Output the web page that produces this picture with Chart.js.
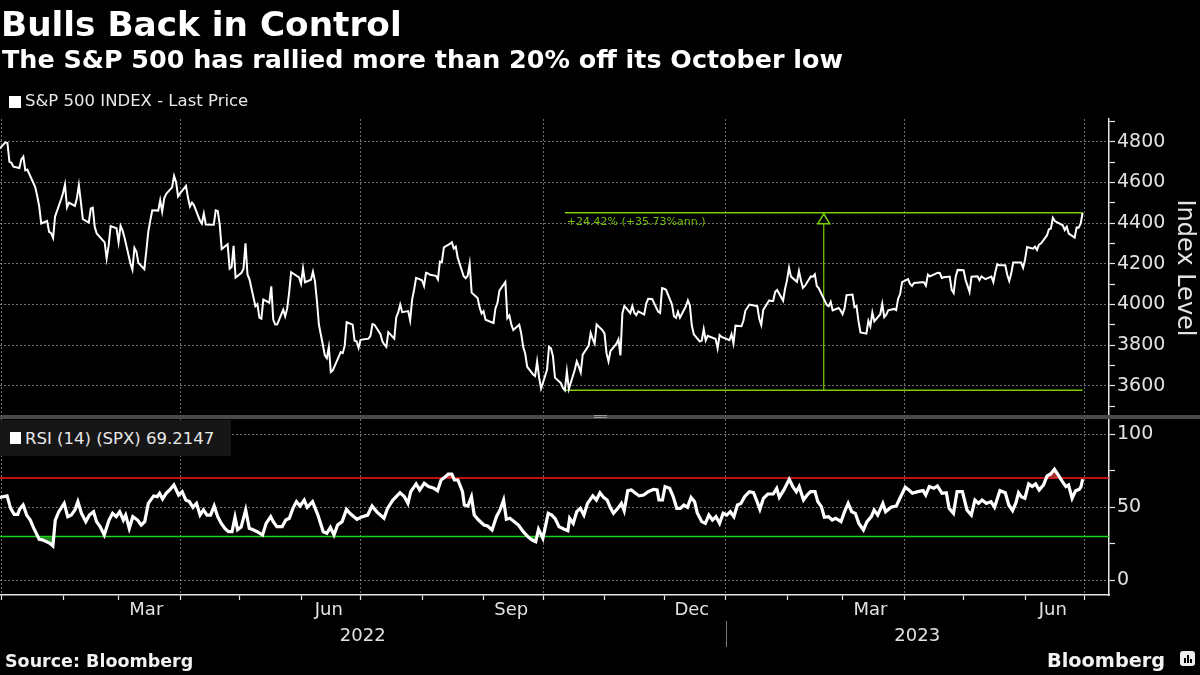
<!DOCTYPE html>
<html>
<head>
<meta charset="utf-8">
<title>Bulls Back in Control</title>
<script src="https://cdn.jsdelivr.net/npm/chart.js@4.4.0/dist/chart.umd.min.js"></script>
<style>
  html, body { margin: 0; padding: 0; background: #000; }
  #wrap { position: relative; width: 1200px; height: 675px; overflow: hidden; background: #000;
          font-family: "DejaVu Sans", sans-serif; color: #fff; }
  #wrap canvas { position: absolute; left: 0; top: 0; }
  .txt { position: absolute; white-space: nowrap; line-height: 1; }
  .sq { position: absolute; background: #fff; }
  #title { left: 1px; top: 7px; font-size: 34.3px; font-weight: bold; }
  #subtitle { left: 2px; top: 47px; font-size: 25.4px; font-weight: bold; }
  #legend { left: 25px; top: 93px; font-size: 16.5px; color: #e8e8e8; }
  #rsiBox { position: absolute; left: 0; top: 420px; width: 231px; height: 36px; background: #161616; }
  #rsiLegend { left: 25px; top: 431px; font-size: 16.5px; color: #e8e8e8; }
  #source { left: 5px; top: 653px; font-size: 17.5px; font-weight: bold; color: #f2f2f2; }
  #brand { left: 1047px; top: 651px; font-size: 19.3px; font-weight: bold; color: #f2f2f2; }
  #brandIcon { position: absolute; left: 1180px; top: 651px; width: 15px; height: 15px; border-radius: 3px; background: #eee; }
  #brandIcon i { position: absolute; bottom: 3px; width: 2px; background: #000; }
</style>
</head>
<body>
<div id="wrap">
  <canvas id="chart" width="1200" height="675"></canvas>
  <div id="title" class="txt">Bulls Back in Control</div>
  <div id="subtitle" class="txt">The S&amp;P 500 has rallied more than 20% off its October low</div>
  <div class="sq" style="left:9px;top:96px;width:12px;height:12px"></div>
  <div id="legend" class="txt">S&amp;P 500 INDEX - Last Price</div>
  <div id="rsiBox"></div>
  <div class="sq" style="left:10px;top:432px;width:11px;height:12px"></div>
  <div id="rsiLegend" class="txt">RSI (14) (SPX) 69.2147</div>
  <div id="source" class="txt">Source: Bloomberg</div>
  <div id="brand" class="txt">Bloomberg</div>
  <div id="brandIcon"><i style="left:4px;height:5px"></i><i style="left:7px;height:8px"></i><i style="left:10px;height:4px"></i></div>
</div>
<script>
// ---- data ----
const spxDates = [
  "2021-12-31",
  "2022-01-03","2022-01-04","2022-01-05","2022-01-06","2022-01-07","2022-01-10","2022-01-11","2022-01-12","2022-01-13","2022-01-14",
  "2022-01-18","2022-01-19","2022-01-20","2022-01-21","2022-01-24","2022-01-25","2022-01-26","2022-01-27","2022-01-28","2022-01-31",
  "2022-02-01","2022-02-02","2022-02-03","2022-02-04","2022-02-07","2022-02-08","2022-02-09","2022-02-10","2022-02-11","2022-02-14",
  "2022-02-15","2022-02-16","2022-02-17","2022-02-18","2022-02-22","2022-02-23","2022-02-24","2022-02-25","2022-02-28",
  "2022-03-01","2022-03-02","2022-03-03","2022-03-04","2022-03-07","2022-03-08","2022-03-09","2022-03-10","2022-03-11","2022-03-14",
  "2022-03-15","2022-03-16","2022-03-17","2022-03-18","2022-03-21","2022-03-22","2022-03-23","2022-03-24","2022-03-25","2022-03-28",
  "2022-03-29","2022-03-30","2022-03-31",
  "2022-04-01","2022-04-04","2022-04-05","2022-04-06","2022-04-07","2022-04-08","2022-04-11","2022-04-12","2022-04-13","2022-04-14",
  "2022-04-18","2022-04-19","2022-04-20","2022-04-21","2022-04-22","2022-04-25","2022-04-26","2022-04-27","2022-04-28","2022-04-29",
  "2022-05-02","2022-05-03","2022-05-04","2022-05-05","2022-05-06","2022-05-09","2022-05-10","2022-05-11","2022-05-12","2022-05-13",
  "2022-05-16","2022-05-17","2022-05-18","2022-05-19","2022-05-20","2022-05-23","2022-05-24","2022-05-25","2022-05-26","2022-05-27",
  "2022-05-31",
  "2022-06-01","2022-06-02","2022-06-03","2022-06-06","2022-06-07","2022-06-08","2022-06-09","2022-06-10","2022-06-13","2022-06-14",
  "2022-06-15","2022-06-16","2022-06-17","2022-06-21","2022-06-22","2022-06-23","2022-06-24","2022-06-27","2022-06-28","2022-06-29",
  "2022-06-30",
  "2022-07-01","2022-07-05","2022-07-06","2022-07-07","2022-07-08","2022-07-11","2022-07-12","2022-07-13","2022-07-14","2022-07-15",
  "2022-07-18","2022-07-19","2022-07-20","2022-07-21","2022-07-22","2022-07-25","2022-07-26","2022-07-27","2022-07-28","2022-07-29",
  "2022-08-01","2022-08-02","2022-08-03","2022-08-04","2022-08-05","2022-08-08","2022-08-09","2022-08-10","2022-08-11","2022-08-12",
  "2022-08-15","2022-08-16","2022-08-17","2022-08-18","2022-08-19","2022-08-22","2022-08-23","2022-08-24","2022-08-25","2022-08-26",
  "2022-08-29","2022-08-30","2022-08-31",
  "2022-09-01","2022-09-02","2022-09-06","2022-09-07","2022-09-08","2022-09-09","2022-09-12","2022-09-13","2022-09-14","2022-09-15",
  "2022-09-16","2022-09-19","2022-09-20","2022-09-21","2022-09-22","2022-09-23","2022-09-26","2022-09-27","2022-09-28","2022-09-29",
  "2022-09-30",
  "2022-10-03","2022-10-04","2022-10-05","2022-10-06","2022-10-07","2022-10-10","2022-10-11","2022-10-12","2022-10-13","2022-10-14",
  "2022-10-17","2022-10-18","2022-10-19","2022-10-20","2022-10-21","2022-10-24","2022-10-25","2022-10-26","2022-10-27","2022-10-28",
  "2022-10-31",
  "2022-11-01","2022-11-02","2022-11-03","2022-11-04","2022-11-07","2022-11-08","2022-11-09","2022-11-10","2022-11-11","2022-11-14",
  "2022-11-15","2022-11-16","2022-11-17","2022-11-18","2022-11-21","2022-11-22","2022-11-23","2022-11-25","2022-11-28","2022-11-29",
  "2022-11-30",
  "2022-12-01","2022-12-02","2022-12-05","2022-12-06","2022-12-07","2022-12-08","2022-12-09","2022-12-12","2022-12-13","2022-12-14",
  "2022-12-15","2022-12-16","2022-12-19","2022-12-20","2022-12-21","2022-12-22","2022-12-23","2022-12-27","2022-12-28","2022-12-29",
  "2022-12-30",
  "2023-01-03","2023-01-04","2023-01-05","2023-01-06","2023-01-09","2023-01-10","2023-01-11","2023-01-12","2023-01-13","2023-01-17",
  "2023-01-18","2023-01-19","2023-01-20","2023-01-23","2023-01-24","2023-01-25","2023-01-26","2023-01-27","2023-01-30","2023-01-31",
  "2023-02-01","2023-02-02","2023-02-03","2023-02-06","2023-02-07","2023-02-08","2023-02-09","2023-02-10","2023-02-13","2023-02-14",
  "2023-02-15","2023-02-16","2023-02-17","2023-02-21","2023-02-22","2023-02-23","2023-02-24","2023-02-27","2023-02-28",
  "2023-03-01","2023-03-02","2023-03-03","2023-03-06","2023-03-07","2023-03-08","2023-03-09","2023-03-10","2023-03-13","2023-03-14",
  "2023-03-15","2023-03-16","2023-03-17","2023-03-20","2023-03-21","2023-03-22","2023-03-23","2023-03-24","2023-03-27","2023-03-28",
  "2023-03-29","2023-03-30","2023-03-31",
  "2023-04-03","2023-04-04","2023-04-05","2023-04-06","2023-04-10","2023-04-11","2023-04-12","2023-04-13","2023-04-14","2023-04-17",
  "2023-04-18","2023-04-19","2023-04-20","2023-04-21","2023-04-24","2023-04-25","2023-04-26","2023-04-27","2023-04-28",
  "2023-05-01","2023-05-02","2023-05-03","2023-05-04","2023-05-05","2023-05-08","2023-05-09","2023-05-10","2023-05-11","2023-05-12",
  "2023-05-15","2023-05-16","2023-05-17","2023-05-18","2023-05-19","2023-05-22","2023-05-23","2023-05-24","2023-05-25","2023-05-26",
  "2023-05-30","2023-05-31",
  "2023-06-01","2023-06-02","2023-06-05","2023-06-06","2023-06-07","2023-06-08","2023-06-09","2023-06-12","2023-06-13","2023-06-14",
  "2023-06-15","2023-06-16","2023-06-20","2023-06-21","2023-06-22","2023-06-23","2023-06-26","2023-06-27","2023-06-28","2023-06-29",
  "2023-06-30"
];
const spxClose = [
  4766.18,
  4796.56,4793.54,4700.58,4696.05,4677.03,4670.29,4713.07,4726.35,4659.03,4662.85,
  4577.11,4532.76,4482.73,4397.94,4410.13,4356.45,4349.93,4326.51,4431.85,4515.55,
  4546.54,4589.38,4477.44,4500.53,4483.87,4521.54,4587.18,4504.08,4418.64,4401.67,
  4471.07,4475.01,4380.26,4348.87,4304.76,4225.50,4288.70,4384.65,4373.94,
  4306.26,4386.54,4363.49,4328.87,4201.09,4170.70,4277.88,4259.52,4204.31,4173.11,
  4262.45,4357.86,4411.67,4463.12,4461.18,4511.61,4456.24,4520.16,4543.06,4575.52,
  4631.60,4602.45,4530.41,
  4545.86,4582.64,4525.12,4481.15,4500.21,4488.28,4412.53,4397.45,4446.59,4392.59,
  4391.69,4462.21,4459.45,4393.66,4271.78,4296.12,4175.20,4183.96,4287.50,4131.93,
  4155.38,4175.48,4300.17,4146.87,4123.34,3991.24,4001.05,3935.18,3930.08,4023.89,
  4008.01,4088.85,3923.68,3900.79,3901.36,3973.75,3941.48,3978.73,4057.84,4158.24,
  4132.15,
  4101.23,4176.82,4108.54,4121.43,4160.68,4115.77,4017.82,3900.86,3749.63,3735.48,
  3789.99,3666.77,3674.84,3764.79,3759.89,3795.73,3911.74,3900.11,3821.55,3818.83,
  3785.38,
  3825.33,3831.39,3845.08,3902.62,3899.38,3854.43,3818.80,3801.78,3790.38,3863.16,
  3830.85,3936.69,3959.90,3998.95,3961.63,3966.84,3921.05,4023.61,4072.43,4130.29,
  4118.63,4091.19,4155.17,4151.94,4145.19,4140.06,4122.47,4210.24,4207.27,4280.15,
  4297.14,4305.20,4274.04,4283.74,4228.48,4137.99,4128.73,4140.77,4199.12,4057.66,
  4030.61,3986.16,3955.00,
  3966.85,3924.26,3908.19,3979.87,4006.18,4067.36,4110.41,3932.69,3946.01,3901.35,
  3873.33,3899.89,3855.93,3789.93,3757.99,3693.23,3655.04,3647.29,3719.04,3640.47,
  3585.62,
  3678.43,3790.93,3783.28,3744.52,3639.66,3612.39,3588.84,3577.03,3669.91,3583.07,
  3677.95,3719.98,3695.16,3665.78,3752.75,3797.34,3859.11,3830.60,3807.30,3901.06,
  3871.98,
  3856.10,3759.69,3719.89,3770.55,3806.80,3828.11,3748.57,3956.37,3992.93,3957.25,
  3991.73,3958.79,3946.56,3965.34,3949.94,4003.58,4027.26,4026.12,3963.94,3957.63,
  4080.11,
  4076.57,4071.70,3998.84,3941.26,3933.92,3963.51,3934.38,3990.56,4019.65,3995.32,
  3895.75,3852.36,3817.66,3821.62,3878.44,3822.39,3844.82,3829.25,3783.22,3849.28,
  3839.50,
  3824.14,3852.97,3808.10,3895.08,3892.09,3919.25,3969.61,3983.17,3999.09,3990.97,
  3928.86,3898.85,3972.61,4019.81,4016.95,4016.22,4060.43,4070.56,4017.77,4076.60,
  4119.21,4179.76,4136.48,4111.08,4164.00,4117.86,4081.50,4090.46,4137.29,4136.13,
  4147.60,4090.41,4079.09,3997.34,3991.05,4012.32,3970.04,3982.24,3970.15,
  3951.39,3981.35,4045.64,4048.42,3986.37,3992.01,3918.32,3861.59,3855.76,3919.29,
  3891.93,3960.28,3916.64,3951.57,4002.87,3936.97,3948.72,3970.99,3977.53,3971.27,
  4027.81,4050.83,4109.31,
  4124.51,4100.60,4090.38,4105.02,4109.11,4108.94,4091.95,4146.22,4137.64,4151.32,
  4154.87,4154.52,4129.79,4133.52,4137.04,4071.63,4055.99,4135.35,4169.48,
  4167.87,4119.58,4090.75,4061.22,4136.25,4138.12,4119.17,4137.64,4130.62,4124.08,
  4136.28,4109.90,4158.77,4198.05,4191.98,4192.63,4145.58,4115.24,4151.28,4205.45,
  4205.52,4179.83,
  4221.02,4282.37,4273.79,4283.85,4267.52,4293.93,4298.86,4338.93,4369.01,4372.59,
  4425.84,4409.59,4388.71,4365.69,4381.89,4348.33,4328.82,4378.41,4376.86,4396.44,
  4450.38
];

// RSI (14) readings, x in days since 2022-01-01
const rsiDay = [
  -0.8, 2.8, 4.6, 6.4, 8.2, 9.1, 10.9, 12.7, 14.5, 16.3,
  19, 20.8, 22.6, 24.4, 25.9, 27.1, 28.9, 31.6, 33.4, 35.2,
  37, 38.5, 40.3, 42.5, 44.3, 46.4, 47.9, 49.7, 51.8, 54.2,
  56, 57.8, 59.6, 61.4, 62.6, 64.4, 66.2, 68.6, 70.4, 72.2,
  74, 76.7, 78.5, 79.7, 81.2, 83, 84.8, 86.9, 89.3, 91.1,
  92.9, 94.7, 96.5, 98.3, 100.1, 101.8, 103.6, 105.4, 107.2, 109,
  110.8, 112.6, 114.4, 116.2, 117.7, 119, 120.8, 123.1, 124.9, 127.1,
  128.9, 131.6, 133.4, 135.7, 137, 138.8, 141.5, 143.3, 145.1, 146.9,
  148.7, 150.5, 152.6, 154.1, 156.8, 159.5, 162.2, 164, 165.8, 167.6,
  169.4, 171.7, 173.9, 175.6, 179.2, 181.9, 184.6, 186.8, 189.2, 192.8,
  194.6, 197.3, 200.9, 203.1, 204.9, 206.3, 209, 210.8, 213.1, 215.3,
  218, 219.8, 221.6, 223.4, 225.2, 227, 228.3, 230.1, 232.4, 233.3,
  235.1, 236.9, 238.3, 240.5, 243.2, 245, 247.3, 249.5, 251.3, 253.1,
  254.5, 256.3, 258.5, 260.6, 263, 265.7, 267.5, 269.3, 270.7, 272.9,
  275.6, 277.4, 279.2, 281, 283.7, 285.5, 286.4, 288.2, 290, 291.8,
  293.6, 295.4, 298.1, 299.9, 301.7, 303.5, 305.3, 307.1, 308.5, 310.7,
  312.5, 313.9, 315.7, 317.5, 319.3, 321.5, 323.7, 326, 328.7, 330.5,
  331.4, 333.2, 334.5, 336.8, 338.6, 340.4, 342.2, 344, 345.8, 347.6,
  349.4, 350.7, 353, 354.8, 356.6, 358.4, 360.2, 362, 363.8, 365.6,
  367.4, 369.2, 371, 372.8, 374.6, 377, 379.1, 380.9, 382.3, 384.1,
  386.3, 389, 390.8, 392.1, 394.4, 397.1, 398.9, 400.7, 402.1, 404.3,
  406.1, 407.9, 410.1, 411.5, 413.3, 414.8, 416.9, 418.7, 420.5, 423.2,
  425, 426.8, 428.6, 430.4, 432.2, 434.5, 436.3, 438.5, 439.9, 441.7,
  444.3, 445.7, 448.4, 451.1, 452.9, 455.6, 457.4, 459.2, 461.9, 464.6,
  465.9, 467.7, 470, 471.8, 474.1, 476.3, 477.7, 479.9, 481.7, 484.4,
  486.7, 488.9, 490.7, 492.5, 494.3, 496.5, 498.8, 500.6, 503.3, 506,
  507.8, 509.7, 511.4, 512.7, 514.1, 515.9, 517.8, 519.6, 521.3, 523.1,
  525.3, 527.1, 528.9, 530.8, 533, 534.8, 536.6, 537.9, 539.7, 541.5,
  543.3, 544.2, 545
];
const rsiValue = [
  56.8, 57.8, 49.3, 45.2, 45.2, 48.6, 51.6, 44.7, 41.3, 35.6,
  28.1, 27.6, 26.5, 25.3, 23.5, 41.3, 47, 52.7, 43.6, 44.7,
  48.2, 53.9, 45.9, 40.2, 44.7, 47, 40.2, 36.8, 31, 41.3,
  45.9, 43.6, 47, 41.3, 44.7, 35.6, 43.6, 41.3, 37.9, 40.2,
  52.7, 57.8, 57.3, 59.6, 55.7, 59.6, 61.9, 65.3, 58.4, 60.7,
  55, 53.9, 50, 52.7, 44.7, 48.2, 44.7, 44.7, 50.9, 43.6,
  39, 35.6, 33.3, 33.3, 43.2, 34.7, 36.5, 48.2, 35.6, 34.5,
  33.3, 31, 39, 43.6, 40.2, 36.8, 36.8, 41.3, 42.5, 49.3,
  53.9, 50.9, 55, 50, 53.9, 44.7, 33.3, 32.2, 36.3, 31,
  37.9, 40.2, 48.6, 45.9, 41.8, 43.6, 44.7, 50.9, 46.9, 42.5,
  49.3, 55, 60, 57.3, 52.7, 60.7, 66, 61.9, 66.4, 64.2,
  63, 61.4, 68.7, 70.5, 72.8, 72.8, 68.7, 68.7, 60.7, 51.6,
  50.9, 57.3, 44.7, 41.3, 37.9, 37.2, 34.5, 43.6, 48.2, 55,
  41.8, 42.5, 40.2, 37.9, 33.3, 29.5, 27.6, 26.5, 34.9, 28.8,
  45.9, 44.7, 42, 36.8, 35, 34, 42.5, 39, 47, 49.3,
  44.7, 52.7, 57.8, 55, 60, 56.8, 55, 49.3, 45.9, 49.3,
  52.7, 47.7, 61.4, 61.9, 60, 57.8, 58.4, 60.7, 62.3, 61.9,
  55, 55, 64.2, 63, 57.3, 49.3, 49.3, 51.6, 50, 56.8,
  53.9, 46.3, 40.2, 39, 44.7, 41.3, 43.6, 39, 45.9, 44.7,
  47, 43.6, 51.6, 52.7, 57.3, 60.7, 60, 53.9, 48.6, 56.2,
  59.1, 59.1, 63, 56.8, 61.9, 69.2, 64.2, 60.7, 64.2, 55,
  58.4, 60.7, 60.7, 53.9, 50.5, 43.2, 43.6, 41.3, 42.5, 40.2,
  47, 52.7, 47, 45.9, 39, 34.5, 40.2, 43.6, 48.2, 44.7,
  52.7, 47, 50, 50.9, 56.2, 63.7, 61.9, 59.6, 60.7, 61.4,
  58.4, 64.2, 63, 64.6, 59.6, 60, 49.3, 45.9, 60.7, 60.7,
  48.2, 44.7, 55, 52.7, 55, 52.7, 53.9, 50, 61.4, 60,
  51.6, 47.7, 53.2, 60, 57.3, 56.2, 66, 64.2, 66, 61.9,
  65.3, 71.5, 72.8, 76, 71.5, 67.6, 64.2, 65.3, 56.2, 61.4,
  62.3, 64.2, 69.21
];

const rsiBands = [70, 30];
const priceTickValues = [3500, 3600, 3700, 3800, 3900, 4000, 4100, 4200, 4300, 4400, 4500, 4600, 4700, 4800, 4900];
const rsiTickValues = [0, 25, 50, 75, 100];
const monthStarts = [
  "2022-01-01","2022-02-01","2022-03-01","2022-04-01","2022-05-01","2022-06-01","2022-07-01","2022-08-01","2022-09-01","2022-10-01",
  "2022-11-01","2022-12-01","2023-01-01","2023-02-01","2023-03-01","2023-04-01","2023-05-01","2023-06-01","2023-07-01"
];
const gridDates = ["2022-01-01","2022-04-01","2022-07-01","2022-10-01","2023-01-01","2023-04-01","2023-07-01"];
const monthLabels = ["Mar", "Jun", "Sep", "Dec", "Mar", "Jun"];
const monthLabelDates = ["2022-03-15","2022-06-15","2022-09-15","2022-12-15","2023-03-15","2023-06-15"];
const yearLabels = ["2022", "2023"];
const yearSplit = "2023-01-01";

// gain measurement drawn on the price panel
const gainFrom = "2022-10-12", gainLow = 3577.03;
const gainTo = "2023-06-30", gainHigh = 4450.38;
const gainText = "+24.42% (+35.73%ann.)";

// ---- chart ----
const X_MIN = -0.76, X_MAX = 558.3;
const GRID = "rgba(140,140,140,0.8)";
const NONE = "rgba(0,0,0,0)";
const AXIS = "#e6e6e6";
const LABEL = "#e2e2e2";
const LIME = "#7ccc0a";

const dayOf = s => (Date.parse(s + "T00:00:00Z") - Date.parse("2022-01-01T00:00:00Z")) / 864e5;

const spxPoints = spxDates.map((d, i) => ({ x: dayOf(d), y: spxClose[i] }));
const rsiPoints = rsiDay.map((d, i) => ({ x: d, y: rsiValue[i] }));
const lowX = dayOf(gainFrom), highX = dayOf(gainTo), midX = (lowX + highX) / 2;
const splitX = dayOf(yearSplit);
const yearCenters = [(X_MIN + splitX) / 2, (splitX + X_MAX) / 2];

const monthSet = new Set(monthStarts.map(dayOf));
const gridSet = new Set(gridDates.map(dayOf));
const xLabelMap = new Map(monthLabelDates.map((d, i) => [dayOf(d), monthLabels[i]]));
const xTickVals = monthStarts.map(dayOf).concat(monthLabelDates.map(dayOf)).sort((a, b) => a - b);

Chart.defaults.font.family = '"DejaVu Sans", sans-serif';
Chart.defaults.color = LABEL;

const overlay = {
    id: "overlay",
    afterDatasetsDraw(chart) {
        const { ctx, scales: { x, y } } = chart;
        const xm = x.getPixelForValue(midX);
        const yt = y.getPixelForValue(gainHigh);
        ctx.save();
        // hollow arrow head on the measuring line
        ctx.strokeStyle = LIME;
        ctx.lineWidth = 1.5;
        ctx.fillStyle = "#000";
        ctx.beginPath();
        ctx.moveTo(xm, yt + 1);
        ctx.lineTo(xm - 6, yt + 11);
        ctx.lineTo(xm + 6, yt + 11);
        ctx.closePath();
        ctx.fill();
        ctx.stroke();
        ctx.fillStyle = "#74bf06";
        ctx.font = '11px "DejaVu Sans"';
        ctx.textBaseline = "top";
        ctx.fillText(gainText, x.getPixelForValue(lowX) + 2, yt + 4);
        ctx.restore();
    },
    afterDraw(chart) {
        const { ctx, scales: { x, y } } = chart;
        const yb = y.bottom;
        ctx.save();
        // panel divider
        ctx.fillStyle = "#4a4a4a";
        ctx.fillRect(0, yb - 2, chart.width, 4);
        ctx.strokeStyle = "#9a9a9a";
        ctx.lineWidth = 1;
        ctx.beginPath();
        ctx.moveTo(594, yb - 1.5); ctx.lineTo(607, yb - 1.5);
        ctx.moveTo(594, yb + 0.5); ctx.lineTo(607, yb + 0.5);
        ctx.stroke();
        // year divider under the month labels
        const xs = Math.round(x.getPixelForValue(splitX)) + 0.5;
        ctx.strokeStyle = "#7a7a7a";
        ctx.beginPath();
        ctx.moveTo(xs, 621); ctx.lineTo(xs, 647);
        ctx.stroke();
        ctx.restore();
    }
};

new Chart(document.getElementById("chart"), {
    type: "line",
    data: {
        datasets: [
            { data: rsiPoints, yAxisID: "rsi", borderColor: "#ffffff", borderWidth: 3.2, order: 0,
              fill: { target: { value: rsiBands[0] }, above: "rgba(200,60,60,0.8)", below: NONE } },
            { data: spxPoints, yAxisID: "y", borderColor: "#ffffff", borderWidth: 2, order: 1 },
            { data: [{ x: lowX, y: gainLow }, { x: highX, y: gainLow }], yAxisID: "y", borderColor: LIME, borderWidth: 1.5, order: 2 },
            { data: [{ x: lowX, y: gainHigh }, { x: highX, y: gainHigh }], yAxisID: "y", borderColor: LIME, borderWidth: 1.5, order: 2 },
            { data: [{ x: midX, y: gainLow }, { x: midX, y: gainHigh }], yAxisID: "y", borderColor: LIME, borderWidth: 1.2, order: 2 },
            { data: [{ x: X_MIN, y: rsiBands[0] }, { x: X_MAX, y: rsiBands[0] }], yAxisID: "rsi", borderColor: "#ff1a1a", borderWidth: 1.5, order: 3 },
            { data: [{ x: X_MIN, y: rsiBands[1] }, { x: X_MAX, y: rsiBands[1] }], yAxisID: "rsi", borderColor: "#19d219", borderWidth: 1.5, order: 3 },
            { data: rsiPoints, yAxisID: "rsi", borderColor: NONE, borderWidth: 0, order: 4,
              fill: { target: { value: rsiBands[1] }, above: NONE, below: "rgba(40,150,40,0.85)" } }
        ]
    },
    options: {
        responsive: false,
        animation: false,
        events: [],
        layout: { padding: { top: 119, bottom: 26, left: 0, right: 0 } },
        elements: { point: { radius: 0 }, line: { tension: 0 } },
        plugins: { legend: { display: false }, tooltip: { enabled: false } },
        scales: {
            x: {
                type: "linear", min: X_MIN, max: X_MAX,
                afterBuildTicks: s => { s.ticks = xTickVals.map(v => ({ value: v })); },
                afterFit: s => { s.height = 28; },
                grid: {
                    color: c => (c.tick && gridSet.has(c.tick.value)) ? GRID : NONE,
                    tickColor: c => (c.tick && monthSet.has(c.tick.value)) ? AXIS : NONE,
                    tickLength: 5, tickWidth: 1.2
                },
                border: { display: true, color: AXIS, width: 1.5, dash: [2, 2] },
                ticks: { autoSkip: false, maxRotation: 0, padding: 0, color: LABEL, font: { size: 18 },
                         callback: v => xLabelMap.get(v) || "" }
            },
            x2: {
                type: "linear", position: "bottom", min: X_MIN, max: X_MAX,
                afterBuildTicks: s => { s.ticks = yearCenters.map(v => ({ value: v })); },
                afterFit: s => { s.height = 26; },
                grid: { display: false, drawTicks: false },
                border: { display: false },
                ticks: { autoSkip: false, maxRotation: 0, padding: 3, color: LABEL, font: { size: 18 },
                         callback: (v, i) => yearLabels[i] }
            },
            y: {
                type: "linear", position: "right", stack: "panels", stackWeight: 298,
                min: 3446, max: 4911.6,
                afterBuildTicks: s => { s.ticks = priceTickValues.map(v => ({ value: v })); },
                afterFit: s => { s.width = 91; },
                grid: {
                    color: c => (c.tick && c.tick.value % 200 === 0) ? GRID : NONE,
                    tickColor: AXIS, tickLength: 6, tickWidth: 1.2
                },
                border: { color: AXIS, width: 1.5, dash: [2, 2] },
                ticks: { autoSkip: false, padding: 2, color: LABEL, font: { size: 19 },
                         callback: v => v % 200 === 0 ? String(v) : "" },
                title: { display: true, text: "Index Level", color: LABEL, font: { size: 24 }, padding: { top: 1, bottom: 0 } }
            },
            rsi: {
                type: "linear", position: "right", stack: "panels", stackWeight: 178,
                min: -10, max: 111.8,
                afterBuildTicks: s => { s.ticks = rsiTickValues.map(v => ({ value: v })); },
                afterFit: s => { s.width = 91; },
                grid: {
                    color: c => (c.tick && c.tick.value % 50 === 0) ? GRID : NONE,
                    tickColor: AXIS, tickLength: 6, tickWidth: 1.2
                },
                border: { color: AXIS, width: 1.5, dash: [2, 2] },
                ticks: { autoSkip: false, padding: 2, color: LABEL, font: { size: 19 },
                         callback: v => v % 50 === 0 ? String(v) : "" }
            }
        }
    },
    plugins: [overlay]
});
</script>
</body>
</html>
